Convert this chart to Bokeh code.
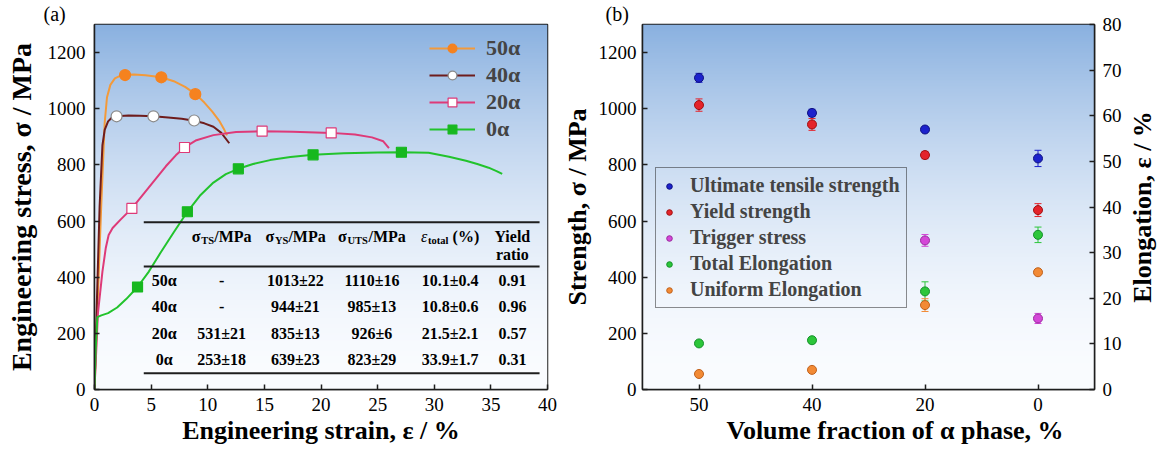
import numpy as np
from bokeh.plotting import figure
from bokeh.layouts import row
from bokeh.models import (Range1d, FactorRange, LinearAxis, FixedTicker, Legend, LegendItem,
                          ColumnDataSource, Whisker, TeeHead, Title)
from bokeh.core.properties import value, field
from bokeh.embed import file_html
from bokeh.resources import INLINE

FONT = "Liberation Serif"
INK = "#1e1e1e"

# ---------------- panel (a): engineering stress-strain curves ----------------
strain_50 = [0, 0.3, 0.6, 0.9, 1.1, 1.4, 1.8, 2.3, 2.7, 3.5, 4.5, 5.9, 7.0, 8.0, 8.9, 9.7, 10.4, 11.0, 11.4, 11.7]
stress_50 = [0, 330, 660, 950, 1040, 1085, 1108, 1118, 1121, 1122, 1119, 1112, 1098, 1078, 1053, 1022, 990, 958, 930, 905]
mark_strain_50 = [2.7, 5.9, 8.9]
mark_stress_50 = [1120, 1112, 1052]

strain_40 = [0, 0.2, 0.45, 0.7, 0.9, 1.2, 1.5, 1.95, 3.0, 4.0, 5.2, 6.5, 7.7, 8.8, 9.7, 10.5, 11.2, 11.9]
stress_40 = [0, 300, 650, 870, 925, 955, 967, 973, 976, 975, 973, 969, 964, 957, 948, 936, 914, 877]
mark_strain_40 = [1.95, 5.2, 8.8]
mark_stress_40 = [973, 973, 958]

strain_20 = [0, 0.3, 0.7, 1.0, 1.25, 1.6, 2.3, 3.3, 4.3, 5.3, 6.3, 7.2, 7.95, 9.0, 10.5, 12.5, 14.8, 17.5, 20.9, 23.0, 24.5, 25.5, 26.0]
stress_20 = [0, 270, 420, 505, 550, 575, 605, 645, 695, 745, 795, 835, 862, 888, 906, 917, 920, 918, 914, 908, 898, 884, 860]
mark_strain_20 = [3.3, 7.95, 14.8, 20.9]
mark_stress_20 = [645, 862, 920, 914]

strain_0 = [0, 0.1, 0.25, 0.6, 1.2, 2.0, 2.8, 3.8, 4.8, 5.8, 7.0, 8.2, 9.3, 10.5, 11.6, 12.7, 14.0, 15.5, 17.3, 19.3,
            22.0, 25.0, 27.1, 29.5, 31.3, 32.8, 33.8, 34.8, 35.5, 36.0]
stress_0 = [0, 140, 258, 264, 272, 292, 322, 365, 420, 485, 560, 633, 690, 737, 767, 786, 803, 817, 828, 836,
            841, 844, 845, 843, 829, 815, 803, 790, 778, 768]
mark_strain_0 = [3.8, 8.2, 12.7, 19.3, 27.1]
mark_stress_0 = [365, 633, 786, 836, 845]

x_ticks_a = [0, 5, 10, 15, 20, 25, 30, 35, 40]
y_ticks = [0, 200, 400, 600, 800, 1000, 1200]

# inset table
table_rows = ["50α", "40α", "20α", "0α"]
table_ts = ["-", "-", "531±21", "253±18"]
table_ys = ["1013±22", "944±21", "835±13", "639±23"]
table_uts = ["1110±16", "985±13", "926±6", "823±29"]
table_etot = ["10.1±0.4", "10.8±0.6", "21.5±2.1", "33.9±1.7"]
table_yr = ["0.91", "0.96", "0.57", "0.31"]

# ---------------- panel (b): properties vs alpha fraction ----------------
alpha_frac = ["50", "40", "20", "0"]
uts = [1110, 985, 926, 823]
uts_err = [16, 13, 6, 29]
ys = [1013, 944, 835, 639]
ys_err = [22, 21, 13, 23]
trig_frac = ["20", "0"]
trig = [531, 253]
trig_err = [21, 18]
tot_el = [10.1, 10.8, 21.5, 33.9]
tot_el_err = [0.4, 0.6, 2.1, 1.7]
uni_el = [3.4, 4.3, 18.5, 25.7]
uni_el_err = [0.3, 0.4, 1.4, 0.5]
elong_ticks = [0, 10, 20, 30, 40, 50, 60, 70, 80]


def gradient_image(n=300):
    t = np.linspace(0.0, 1.0, n)
    f = t ** 1.8
    top = np.array([138, 177, 224], dtype=float)
    bottom = np.array([250, 252, 255], dtype=float)
    rgb = bottom[None, :] * (1 - f[:, None]) + top[None, :] * f[:, None]
    img = np.empty((n, 1), dtype=np.uint32)
    v = img.view(dtype=np.uint8).reshape((n, 1, 4))
    v[:, 0, 0] = rgb[:, 0].astype(np.uint8)
    v[:, 0, 1] = rgb[:, 1].astype(np.uint8)
    v[:, 0, 2] = rgb[:, 2].astype(np.uint8)
    v[:, 0, 3] = 255
    return img


def style_fig(p):
    p.background_fill_color = "white"
    p.border_fill_color = "white"
    p.outline_line_color = INK
    p.outline_line_width = 1.5
    p.xgrid.visible = False
    p.ygrid.visible = False


def style_axis(ax, label_size="26px", standoff=7, label_standoff=8):
    ax.axis_line_color = INK
    ax.axis_line_width = 1.5
    ax.major_tick_line_color = INK
    ax.major_tick_line_width = 1.5
    ax.major_tick_in = 5
    ax.major_tick_out = 0
    ax.minor_tick_line_color = None
    ax.major_label_text_font = FONT
    ax.major_label_text_font_size = "19px"
    ax.major_label_text_color = "black"
    ax.major_label_standoff = standoff
    ax.axis_label_text_font = FONT
    ax.axis_label_text_font_size = label_size
    ax.axis_label_text_font_style = "bold"
    ax.axis_label_text_color = "black"
    ax.axis_label_standoff = label_standoff


def panel_tag(p, text, offset):
    p.title.text = text
    p.title.align = "left"
    p.title.offset = offset
    p.title.standoff = 0
    p.title.text_font = FONT
    p.title.text_font_size = "20px"
    p.title.text_font_style = "normal"
    p.title.text_color = "black"


# ======================= panel (a) =======================
p1 = figure(width=557, height=450, x_range=Range1d(0, 40), y_range=Range1d(0, 1300),
            min_border_left=94, min_border_right=10, min_border_top=24, min_border_bottom=61,
            output_backend="svg", toolbar_location=None)
style_fig(p1)
panel_tag(p1, "(a)", -51)
bg1 = p1.image_rgba(image=[gradient_image()], x=0, y=0, dw=40, dh=1300)
bg1.level = "image"

p1.xaxis.ticker = FixedTicker(ticks=x_ticks_a)
p1.yaxis.ticker = FixedTicker(ticks=y_ticks)
p1.xaxis.axis_label = "Engineering strain, ε / %"
p1.yaxis.axis_label = "Engineering stress, σ / MPa"
style_axis(p1.xaxis[0], "26px", 8, 2)
style_axis(p1.yaxis[0], "28px", 9, 8)

curves = [
    ("50α", strain_50, stress_50, mark_strain_50, mark_stress_50, "#F39A3A", "circle", "#F5821F", "#F5821F"),
    ("40α", strain_40, stress_40, mark_strain_40, mark_stress_40, "#6E1C1C", "circle", "white", "#8a8a8a"),
    ("20α", strain_20, stress_20, mark_strain_20, mark_stress_20, "#DE3A78", "square", "white", "#DE3A78"),
    ("0α", strain_0, stress_0, mark_strain_0, mark_stress_0, "#22C32C", "square", "#17B81F", "#17B81F"),
]
for lab, sx, sy, mx, my, lc, mk, fc, mlc in curves:
    p1.line(sx, sy, line_color=lc, line_width=2, legend_label=lab)
    p1.scatter(mx, my, marker=mk, size=11 if mk == "circle" else 10, fill_color=fc,
               line_color=mlc, line_width=1.2, legend_label=lab)

lg1 = p1.legend[0]
lg1.location = (335, 247)
lg1.border_line_color = None
lg1.background_fill_alpha = 0
lg1.label_text_font = FONT
lg1.label_text_font_size = "22px"
lg1.label_text_font_style = "bold"
lg1.glyph_width = 46
lg1.glyph_height = 22
lg1.label_height = 22
lg1.spacing = 1
lg1.padding = 4
lg1.margin = 0
lg1.label_standoff = 11

# table rules (layout constants in data units)
TABLE_X0, TABLE_X1 = 4.35, 39.3
RULE_Y = [596, 438, 58]
p1.segment(x0=[TABLE_X0] * 3, x1=[TABLE_X1] * 3, y0=RULE_Y, y1=RULE_Y, line_color=INK, line_width=2)

COL_X = [6.15, 11.23, 17.74, 24.5, 31.4, 36.9]
ROW_Y = [388, 296, 199, 107]
cx, cy, ct = [], [], []
for j, col in enumerate([table_rows, table_ts, table_ys, table_uts, table_etot, table_yr]):
    for i, txt in enumerate(col):
        cx.append(COL_X[j]); cy.append(ROW_Y[i]); ct.append(txt)
p1.text(x=cx, y=cy, text=ct, text_font=value(FONT), text_font_size="16px", text_font_style="bold",
        text_align="center", text_baseline="middle", text_color="black")

# header with subscripts built from pieces
HDR_Y, HDR_Y2 = 545, 481
hp = dict(x=[], y=[], text=[], size=[], style=[], dx=[], dy=[])
def piece(col, y, t, size, style, dx, dy=0):
    hp["x"].append(COL_X[col]); hp["y"].append(y); hp["text"].append(t)
    hp["size"].append(size); hp["style"].append(style); hp["dx"].append(dx); hp["dy"].append(dy)

piece(1, HDR_Y, "σ", "16px", "bold", -30)
piece(1, HDR_Y, "TS", "10.5px", "bold", -20.5, 4)
piece(1, HDR_Y, "/MPa", "16px", "bold", -7.5)
piece(2, HDR_Y, "σ", "16px", "bold", -30)
piece(2, HDR_Y, "YS", "10.5px", "bold", -20.5, 4)
piece(2, HDR_Y, "/MPa", "16px", "bold", -7)
piece(3, HDR_Y, "σ", "16px", "bold", -34)
piece(3, HDR_Y, "UTS", "10.5px", "bold", -24.5, 4)
piece(3, HDR_Y, "/MPa", "16px", "bold", -3.5)
piece(4, HDR_Y, "ε", "16px", "italic", -29)
piece(4, HDR_Y, "total", "10.5px", "bold", -22, 4)
piece(4, HDR_Y, "(%)", "16px", "bold", 2.5)
piece(5, HDR_Y, "Yield", "16px", "bold", -18)
piece(5, HDR_Y2, "ratio", "16px", "bold", -16.5)
p1.text(x="x", y="y", text="text", source=ColumnDataSource(hp), text_font=value(FONT),
        text_font_size=field("size"), text_font_style=field("style"), x_offset=field("dx"),
        y_offset=field("dy"), text_align="left", text_baseline="middle", text_color="black")

# ======================= panel (b) =======================
p2 = figure(width=567, height=450, x_range=FactorRange(factors=alpha_frac), y_range=Range1d(0, 1300),
            min_border_left=85, min_border_right=30, min_border_top=24, min_border_bottom=61,
            output_backend="svg", toolbar_location=None)
p2.extra_y_ranges = {"elong": Range1d(0, 80)}
style_fig(p2)
panel_tag(p2, "(b)", -37)
bg2 = p2.image_rgba(image=[gradient_image()], x=0, y=0, dw=len(alpha_frac), dh=1300)
bg2.level = "image"

p2.yaxis.ticker = FixedTicker(ticks=y_ticks)
p2.yaxis.axis_label = "Strength, σ / MPa"
style_axis(p2.xaxis[0], "26px", 8, 0)
style_axis(p2.yaxis[0], "26px", 6, 4)

ax_r = LinearAxis(y_range_name="elong", ticker=FixedTicker(ticks=elong_ticks))
style_axis(ax_r, "26px", 8, 0)
p2.add_layout(ax_r, "right")

xt2 = Title(text="Volume fraction of  α phase, %", align="left", offset=84, standoff=0,
            text_font=FONT, text_font_size="26px", text_font_style="bold", text_color="black")
p2.add_layout(xt2, "below")


def err_series(p, xs, vals, errs, color, edge, rng="default"):
    src = ColumnDataSource(dict(x=xs, y=vals,
                                lo=[a - b for a, b in zip(vals, errs)],
                                hi=[a + b for a, b in zip(vals, errs)]))
    w = Whisker(base="x", lower="lo", upper="hi", source=src, line_color=color, line_width=1,
                upper_head=TeeHead(size=7, line_color=color, line_width=1),
                lower_head=TeeHead(size=7, line_color=color, line_width=1))
    w.y_range_name = rng
    p.add_layout(w)
    return p.scatter(x="x", y="y", source=src, size=9, fill_color=color, line_color=edge,
                     line_width=1, y_range_name=rng)


r_uts = err_series(p2, alpha_frac, uts, uts_err, "#1c22cc", "#0d1080")
r_ys = err_series(p2, alpha_frac, ys, ys_err, "#e4232a", "#a01010")
r_trig = err_series(p2, trig_frac, trig, trig_err, "#d447d8", "#9a2a9e")
r_tot = err_series(p2, alpha_frac, tot_el, tot_el_err, "#2cc63a", "#14902a", "elong")
r_uni = err_series(p2, alpha_frac, uni_el, uni_el_err, "#f28a35", "#c0601a", "elong")

lg2 = Legend(items=[LegendItem(label="Ultimate tensile strength", renderers=[r_uts]),
                    LegendItem(label="Yield strength", renderers=[r_ys]),
                    LegendItem(label="Trigger stress", renderers=[r_trig]),
                    LegendItem(label="Total Elongation", renderers=[r_tot]),
                    LegendItem(label="Uniform Elongation", renderers=[r_uni])],
             location=(13, 81))
lg2.border_line_color = INK
lg2.border_line_width = 1.5
lg2.background_fill_alpha = 0
lg2.label_text_font = FONT
lg2.label_text_font_size = "20px"
lg2.label_text_font_style = "bold"
lg2.glyph_width = 14
lg2.glyph_height = 22
lg2.label_height = 22
lg2.spacing = 3
lg2.padding = 6
lg2.margin = 0
lg2.label_standoff = 14
p2.add_layout(lg2)

# ---- title strip for the elongation (right) axis: reads bottom-to-top like the reference ----
p3 = figure(width=33, height=450, x_range=Range1d(0, 1), y_range=p2.extra_y_ranges["elong"],
            min_border_left=31, min_border_right=0, min_border_top=24, min_border_bottom=61,
            output_backend="svg", toolbar_location=None)
p3.outline_line_color = None
p3.background_fill_color = "white"
p3.border_fill_color = "white"
p3.xgrid.visible = False
p3.ygrid.visible = False
p3.xaxis.visible = False
ya3 = p3.yaxis[0]
ya3.ticker = FixedTicker(ticks=[])
ya3.axis_line_color = None
ya3.major_tick_line_color = None
ya3.minor_tick_line_color = None
ya3.major_tick_out = 0
ya3.major_tick_in = 0
ya3.major_label_standoff = 0
ya3.axis_label = "Elongation, ε / %"
ya3.axis_label_text_font = FONT
ya3.axis_label_text_font_size = "26px"
ya3.axis_label_text_font_style = "bold"
ya3.axis_label_text_color = "black"
ya3.axis_label_standoff = 0

layout = row(p1, p2, p3)
open("out.html", "w").write(file_html(layout, INLINE))
